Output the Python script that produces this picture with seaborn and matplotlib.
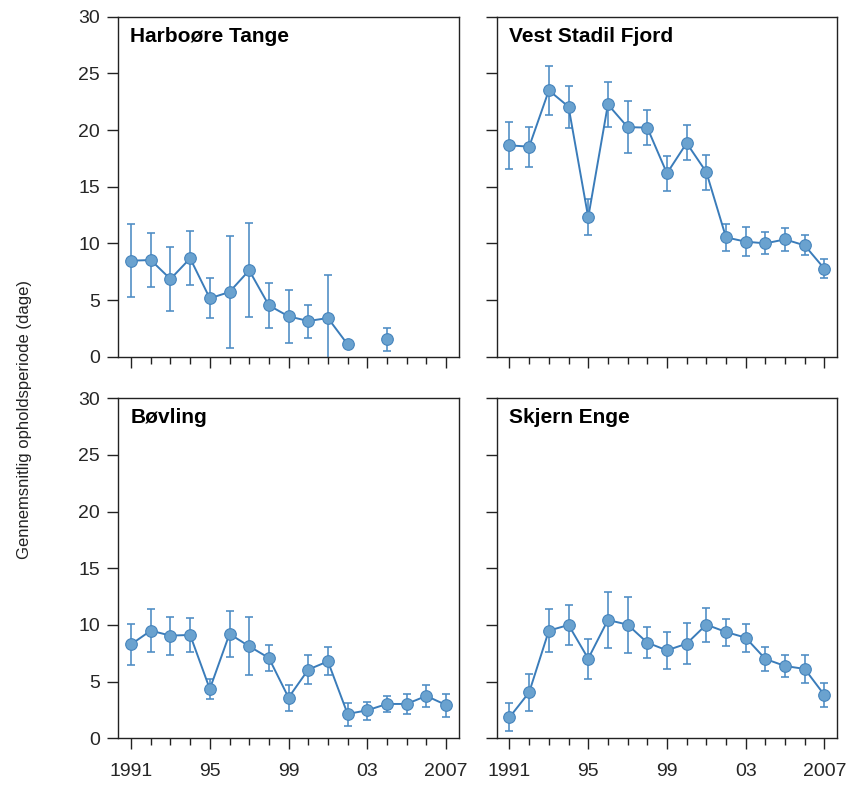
import numpy as np
import pandas as pd
import matplotlib
matplotlib.use("Agg")
import matplotlib.pyplot as plt
import seaborn as sns
from matplotlib.ticker import FixedLocator, MultipleLocator

nan = np.nan
years = list(range(1991, 2008))
sites = ["Harboøre Tange", "Vest Stadil Fjord", "Bøvling", "Skjern Enge"]

harboore_mean = [8.47, 8.53, 6.85, 8.68, 5.15, 5.71, 7.62, 4.53, 3.56, 3.15, 3.41, 1.09, nan, 1.53, nan, nan, nan]
harboore_low  = [5.26, 6.15, 4.03, 6.29, 3.38, 0.79, 3.50, 2.53, 1.18, 1.68, -0.42, nan, nan, 0.53, nan, nan, nan]
harboore_high = [11.68, 10.91, 9.71, 11.12, 6.91, 10.62, 11.79, 6.53, 5.91, 4.59, 7.24, nan, nan, 2.50, nan, nan, nan]

vest_mean = [18.65, 18.53, 23.50, 22.06, 12.29, 22.26, 20.26, 20.21, 16.18, 18.85, 16.29, 10.53, 10.15, 10.00, 10.35, 9.82, 7.76]
vest_low  = [16.59, 16.74, 21.32, 20.21, 10.71, 20.29, 18.00, 18.71, 14.59, 17.35, 14.74, 9.35, 8.85, 9.06, 9.32, 8.94, 6.91]
vest_high = [20.68, 20.29, 25.68, 23.91, 13.88, 24.26, 22.56, 21.74, 17.74, 20.41, 17.82, 11.68, 11.47, 10.97, 11.38, 10.74, 8.62]

bovling_mean = [8.29, 9.50, 9.06, 9.12, 4.35, 9.21, 8.12, 7.09, 3.59, 6.06, 6.79, 2.15, 2.47, 3.03, 3.03, 3.74, 2.94]
bovling_low  = [6.44, 7.59, 7.38, 7.62, 3.44, 7.18, 5.56, 5.97, 2.44, 4.79, 5.56, 1.12, 1.65, 2.32, 2.15, 2.76, 1.88]
bovling_high = [10.12, 11.44, 10.71, 10.59, 5.24, 11.26, 10.68, 8.21, 4.74, 7.32, 8.03, 3.15, 3.24, 3.74, 3.88, 4.68, 3.94]

skjern_mean = [1.85, 4.06, 9.50, 10.00, 7.03, 10.44, 10.03, 8.44, 7.76, 8.35, 10.03, 9.38, 8.88, 7.00, 6.38, 6.12, 3.82]
skjern_low  = [0.65, 2.44, 7.59, 8.24, 5.26, 8.00, 7.56, 7.09, 6.12, 6.56, 8.50, 8.18, 7.62, 5.94, 5.38, 4.85, 2.76]
skjern_high = [3.09, 5.65, 11.38, 11.79, 8.74, 12.91, 12.50, 9.82, 9.41, 10.15, 11.53, 10.53, 10.12, 8.03, 7.38, 7.35, 4.91]

major_years = [1991, 1995, 1999, 2003, 2007]
major_labels = ["1991", "95", "99", "03", "2007"]
yticks = [0, 5, 10, 15, 20, 25, 30]
ylabel = "Gennemsnitlig opholdsperiode (dage)"

series = {
    "Harboøre Tange": (harboore_mean, harboore_low, harboore_high),
    "Vest Stadil Fjord": (vest_mean, vest_low, vest_high),
    "Bøvling": (bovling_mean, bovling_low, bovling_high),
    "Skjern Enge": (skjern_mean, skjern_low, skjern_high),
}

sns.set_style("ticks")
plt.rcParams['font.family'] = ['Liberation Sans', 'DejaVu Sans']

line_c = "#3a7cba"
edge_c = "#4584bd"
face_c = "#6aa2cf"
err_c = "#4f8dc5"
spine_c = "#222222"

W, H = 855, 789
fig = plt.figure(figsize=(W / 100, H / 100), dpi=100)

boxes = {
    "Harboøre Tange": (118.3, 16.7),
    "Vest Stadil Fjord": (496.7, 16.7),
    "Bøvling": (118.3, 398.3),
    "Skjern Enge": (496.7, 398.3),
}
bw, bh = 340.5, 340.0

for i, site in enumerate(sites):
    x0, y0 = boxes[site]
    ax = fig.add_axes([x0 / W, 1 - (y0 + bh) / H, bw / W, bh / H])
    m, lo, hi = series[site]
    df = pd.DataFrame({"year": years, "mean": m, "low": lo, "high": hi})
    # segments separated by missing values
    df["seg"] = df["mean"].isna().cumsum()
    dd = df.dropna(subset=["mean"])

    err = dd.dropna(subset=["low"])
    ax.errorbar(err["year"], err["mean"],
                yerr=[err["mean"] - err["low"], err["high"] - err["mean"]],
                fmt="none", ecolor=err_c, elinewidth=1.3, capsize=3,
                capthick=1.3, alpha=0.9, zorder=2)
    sns.lineplot(data=dd, x="year", y="mean", units="seg", estimator=None,
                 color=line_c, linewidth=1.4, ax=ax, zorder=3, legend=False)
    sns.scatterplot(data=dd, x="year", y="mean", color=face_c,
                    edgecolor=edge_c, linewidth=0.8, s=70, ax=ax, zorder=4,
                    legend=False)

    ax.set_xlim(1990.35, 2007.65)
    ax.set_ylim(0, 30)
    ax.set_xlabel("")
    ax.set_ylabel("")
    ax.xaxis.set_major_locator(FixedLocator(major_years))
    ax.xaxis.set_minor_locator(MultipleLocator(1))
    ax.set_yticks(yticks)
    ax.tick_params(axis="x", which="major", length=8, width=1, color=spine_c,
                   labelsize=14, pad=9.5, direction="out")
    ax.tick_params(axis="x", which="minor", length=5, width=1, color=spine_c,
                   direction="out")
    ax.tick_params(axis="y", which="major", length=8, width=1, color=spine_c,
                   labelsize=14, pad=5, direction="out")
    if i >= 2:
        ax.set_xticklabels(major_labels)
    else:
        ax.set_xticklabels([])
    if i % 2 == 0:
        ax.set_yticklabels([str(v) for v in yticks])
    else:
        ax.set_yticklabels([])
    for sp in ax.spines.values():
        sp.set_visible(True)
        sp.set_color(spine_c)
        sp.set_linewidth(1.0)
    ax.text(0.035, 0.926, site, transform=ax.transAxes, fontsize=15,
            fontweight="bold", ha="left", va="baseline", color="black")

fig.text(25 / W, 1 - 419.5 / H, ylabel, rotation=90, ha="center", va="center",
         fontsize=12, color="#222222")

fig.savefig("out.png", dpi=100)
